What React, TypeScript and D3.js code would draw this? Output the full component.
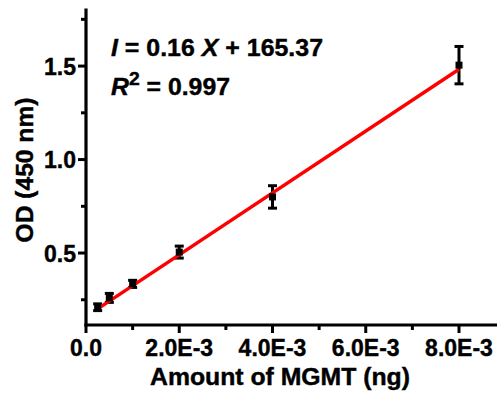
import React from "react";
import * as d3 from "d3";

const xValues = [0.00025, 0.0005, 0.001, 0.002, 0.004, 0.008];
const yValues = [0.21, 0.26, 0.335, 0.505, 0.8, 1.505];
const yErrors = [0.018, 0.024, 0.019, 0.032, 0.06, 0.1];
const fitSlope = 165.37;
const fitIntercept = 0.16;

const xMajorTicks = [0, 0.002, 0.004, 0.006, 0.008];
const xTickLabels = ["0.0", "2.0E-3", "4.0E-3", "6.0E-3", "8.0E-3"];
const xMinorTicks = [0.001, 0.003, 0.005, 0.007];
const yMajorTicks = [0.5, 1.0, 1.5];
const yTickLabels = ["0.5", "1.0", "1.5"];
const yMinorTicks = [0.25, 0.75, 1.25, 1.75];

const W = 497;
const H = 396;
const FONT = "'Liberation Sans', Arial, sans-serif";

export default function App() {
  const x = d3.scaleLinear().domain([0, 0.0088]).range([86, 86 + 0.0088 * 46625]);
  const y = d3.scaleLinear().domain([0.115, 1.8]).range([325, 10]);
  const x0 = x(0);
  const yBase = y(0.115);
  const line = d3
    .line<number>()
    .x((d) => x(d))
    .y((d) => y(fitIntercept + fitSlope * d));
  const fitX = [xValues[0], xValues[xValues.length - 1]];

  return (
    <div style={{ position: "absolute", left: 0, top: 0 }}>
      <svg width={W} height={H} style={{ display: "block", background: "#fff" }}>
        {/* axes */}
        <line x1={x0} y1={y(1.8)} x2={x0} y2={yBase} stroke="#000" strokeWidth={3.2} strokeLinecap="square" />
        <line x1={x0} y1={yBase} x2={W} y2={yBase} stroke="#000" strokeWidth={3.2} strokeLinecap="square" />
        {/* x ticks */}
        {xMajorTicks.map((t, i) => (
          <g key={"xm" + i}>
            <line x1={x(t)} x2={x(t)} y1={yBase} y2={yBase + 8} stroke="#000" strokeWidth={3} />
            <text x={x(t)} y={356} textAnchor="middle" fontFamily={FONT} fontWeight="bold" fontSize={23} fill="#000" stroke="#000" strokeWidth={0.4}>
              {xTickLabels[i]}
            </text>
          </g>
        ))}
        {xMinorTicks.map((t, i) => (
          <line key={"xn" + i} x1={x(t)} x2={x(t)} y1={yBase} y2={yBase + 5} stroke="#000" strokeWidth={3} />
        ))}
        {/* y ticks */}
        {yMajorTicks.map((t, i) => (
          <g key={"ym" + i}>
            <line x1={x0 - 8} x2={x0} y1={y(t)} y2={y(t)} stroke="#000" strokeWidth={3} />
            <text x={76} y={y(t) + 8.5} textAnchor="end" fontFamily={FONT} fontWeight="bold" fontSize={23} fill="#000" stroke="#000" strokeWidth={0.4}>
              {yTickLabels[i]}
            </text>
          </g>
        ))}
        {yMinorTicks.map((t, i) => (
          <line key={"yn" + i} x1={x0 - 5} x2={x0} y1={y(t)} y2={y(t)} stroke="#000" strokeWidth={3} />
        ))}
        {/* axis titles */}
        <text x={280} y={385} textAnchor="middle" fontFamily={FONT} fontWeight="bold" fontSize={23} fill="#000" stroke="#000" strokeWidth={0.4} textLength={260} lengthAdjust="spacingAndGlyphs">
          Amount of MGMT (ng)
        </text>
        <text transform={`translate(33,170) rotate(-90)`} textAnchor="middle" fontFamily={FONT} fontWeight="bold" fontSize={23} fill="#000" stroke="#000" strokeWidth={0.4} textLength={145} lengthAdjust="spacingAndGlyphs">
          OD (450 nm)
        </text>
        {/* error bars */}
        {xValues.map((xv, i) => {
          const cx = x(xv);
          const top = y(yValues[i] + yErrors[i]);
          const bot = y(yValues[i] - yErrors[i]);
          return (
            <g key={"e" + i} stroke="#000" strokeWidth={3}>
              <line x1={cx} x2={cx} y1={top} y2={bot} />
              <line x1={cx - 4.5} x2={cx + 4.5} y1={top} y2={top} />
              <line x1={cx - 4.5} x2={cx + 4.5} y1={bot} y2={bot} />
            </g>
          );
        })}
        {/* fit line */}
        <path d={line(fitX) || ""} stroke="#ff0000" strokeWidth={3.4} fill="none" />
        {/* markers */}
        {xValues.map((xv, i) => (
          <rect key={"m" + i} x={x(xv) - 3.5} y={y(yValues[i]) - 3.5} width={7} height={7} fill="#000" />
        ))}
        {/* equation */}
        <text x={111} y={56} fontFamily={FONT} fontWeight="bold" fontSize={23} fill="#000" stroke="#000" strokeWidth={0.4} textLength={212} lengthAdjust="spacingAndGlyphs">
          <tspan fontStyle="italic">I</tspan>
          <tspan> = 0.16 </tspan>
          <tspan fontStyle="italic">X</tspan>
          <tspan> + 165.37</tspan>
        </text>
        <text x={111} y={95} fontFamily={FONT} fontWeight="bold" fontSize={23} fill="#000" stroke="#000" strokeWidth={0.4} textLength={119} lengthAdjust="spacingAndGlyphs">
          <tspan fontStyle="italic">R</tspan>
          <tspan dy={-10} fontSize={18}>2</tspan>
          <tspan dy={10}> = 0.997</tspan>
        </text>
      </svg>
    </div>
  );
}
